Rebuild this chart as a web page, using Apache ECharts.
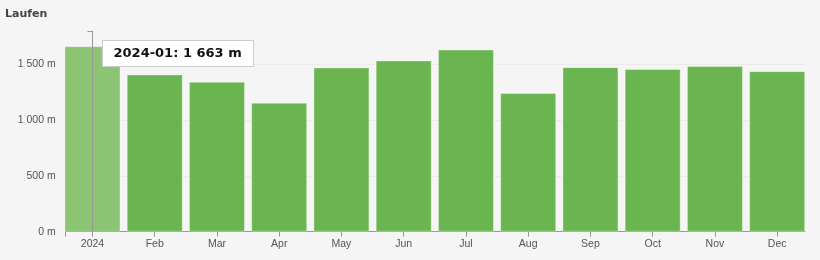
<!DOCTYPE html>
<html>
<head>
<meta charset="utf-8">
<script src="https://cdn.jsdelivr.net/npm/echarts@6/dist/echarts.min.js"></script>
<style>
html,body{margin:0;padding:0;background:#f5f5f5;}
#c{width:820px;height:260px;}
</style>
</head>
<body>
<div id="c"></div>
<script>
const categories = ['2024-01','2024-02','2024-03','2024-04','2024-05','2024-06','2024-07','2024-08','2024-09','2024-10','2024-11','2024-12'];
const tickLabels = ['2024','Feb','Mar','Apr','May','Jun','Jul','Aug','Sep','Oct','Nov','Dec'];
const values = [1663, 1410, 1344, 1156, 1473, 1536, 1634, 1243, 1476, 1460, 1485, 1440];
const yTicks = [0, 500, 1000, 1500];
const highlighted = 0;

function fmt(v){ return String(Math.round(v)).replace(/\B(?=(\d{3})+(?!\d))/g, ' ') + ' m'; }

const chart = echarts.init(document.getElementById('c'), null, {renderer:'canvas'});
const xMin = -0.43, xMax = 11.447;
const idx = categories.map((_, i) => i);

chart.setOption({
  animation: false,
  backgroundColor: '#f5f5f5',
  title: {
    text: 'Laufen', left: 5, top: 9, padding: 0,
    textStyle: {fontFamily: 'DejaVu Sans', fontWeight: 'bold', fontSize: 11, color: '#444'}
  },
  grid: {left: 65.7, right: 15, top: 31, bottom: 28.3, containLabel: false},
  xAxis: {
    type: 'value', min: xMin, max: xMax,
    axisLine: {show: true, lineStyle: {color: '#999'}},
    axisTick: {show: true, length: 5, lineStyle: {color: '#999'}, customValues: [xMin].concat(idx)},
    axisLabel: {
      customValues: idx, margin: 7,
      fontFamily: 'Liberation Sans', fontSize: 10.5, color: '#555',
      formatter: v => tickLabels[Math.round(v)]
    },
    splitLine: {show: false}
  },
  yAxis: {
    type: 'value', min: 0, max: 1800,
    axisLine: {show: true, lineStyle: {color: '#999'}},
    axisTick: {show: true, length: 5, lineStyle: {color: '#999'}, customValues: yTicks.concat([1799.5])},
    axisLabel: {
      customValues: yTicks, margin: 10,
      fontFamily: 'Liberation Sans', fontSize: 10.5, color: '#555',
      formatter: v => fmt(v)
    },
    splitLine: {show: true, lineStyle: {color: ['#ebebeb','#ebebeb','#ebebeb','#ebebeb','rgba(0,0,0,0)']}}
  },
  series: [{
    type: 'bar',
    barWidth: 56,
    data: values.map((v, i) => ({
      value: [i, v],
      itemStyle: i === highlighted ? {color: '#8bc574', borderColor: 'rgba(255,255,255,0.25)'} : {}
    })),
    itemStyle: {color: '#6ab54f', borderColor: 'rgba(255,255,255,0.35)', borderWidth: 1},
    markLine: {
      silent: true, symbol: ['none', 'none'], symbolSize: 0, label: {show: false},
      lineStyle: {color: '#999', type: 'solid', width: 1},
      data: [[{coord: [highlighted, 0]}, {coord: [highlighted, 1800]}]]
    },
    z: 2
  }],
  graphic: [{
    type: 'group', left: 102, top: 40, z: 100,
    children: [
      {type: 'rect', z: 100, shape: {x: 0, y: 0, width: 151, height: 26},
       style: {fill: '#ffffff', stroke: '#cccccc', lineWidth: 1}},
      {type: 'text', z: 101, x: 11, y: 13,
       style: {text: categories[highlighted] + ': ' + fmt(values[highlighted]),
               fontFamily: 'DejaVu Sans', fontWeight: 'bold', fontSize: 13,
               fill: '#111', verticalAlign: 'middle', align: 'left'}}
    ]
  }]
});
</script>
</body>
</html>
